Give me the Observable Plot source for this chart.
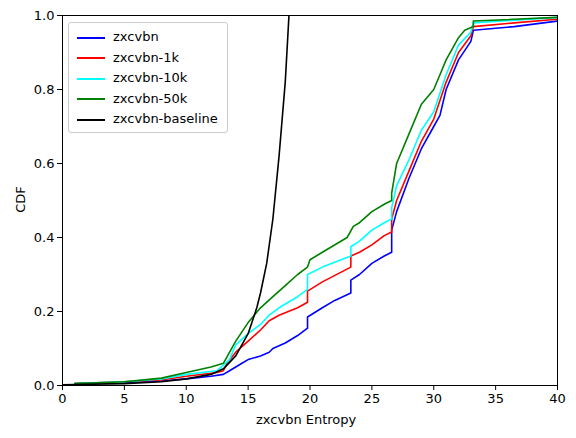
<!DOCTYPE html>
<html><head><meta charset="utf-8">
<script src="https://cdn.jsdelivr.net/npm/d3@7"></script>
<script src="https://cdn.jsdelivr.net/npm/@observablehq/plot@0.6"></script>
<style>
body{margin:0;background:#fff;font-family:"DejaVu Sans",sans-serif}
#chart{position:relative;width:576px;height:438px}
#legend{position:absolute;left:68px;top:22px;width:158px;height:109px;border:1px solid #ccc;border-radius:3px;background:rgba(255,255,255,0.8);font-size:13px}
#legend div{position:absolute;left:8px;height:20px;line-height:20px}
#legend span{display:inline-block;width:28px;height:2px;vertical-align:middle;margin-right:8px}
.lab{position:absolute;font-size:13px}
</style></head><body>
<div id="chart"></div>
<script>
var series = ["zxcvbn", "zxcvbn-1k", "zxcvbn-10k", "zxcvbn-50k", "zxcvbn-baseline"]
var colors = ["blue", "red", "cyan", "green", "black"]
var xTicks = [0, 5, 10, 15, 20, 25, 30, 35, 40]
var yTicks = [0, 0.2, 0.4, 0.6, 0.8, 1.0]

var zxcvbn = [[1,0.005],[5,0.008],[8,0.012],[10,0.018],[12,0.025],[13,0.03],[13.5,0.04],[14,0.05],[14.5,0.06],[15,0.07],[16,0.08],[16.7,0.09],[17,0.1],[18,0.115],[19,0.135],[19.8,0.155],[19.8,0.185],[21,0.21],[22,0.23],[23.3,0.25],[23.3,0.285],[24,0.3],[25,0.33],[26,0.35],[26.6,0.36],[26.6,0.42],[27,0.47],[28,0.56],[29,0.64],[30,0.7],[30.5,0.73],[31,0.8],[32,0.88],[33,0.93],[33.2,0.96],[36.5,0.97],[40,0.985]]
var zxcvbn1k = [[1,0.005],[5,0.01],[8,0.015],[10,0.025],[12.5,0.035],[13,0.04],[13.3,0.06],[14,0.09],[15,0.12],[16,0.15],[16.7,0.175],[17.5,0.19],[19,0.21],[19.8,0.225],[19.8,0.255],[21,0.28],[23.3,0.32],[23.3,0.35],[24,0.36],[25,0.38],[26,0.405],[26.6,0.415],[26.6,0.45],[27,0.5],[28,0.58],[29,0.66],[30,0.72],[31,0.82],[32,0.9],[33,0.945],[33.2,0.97],[36.5,0.98],[40,0.99]]
var zxcvbn10k = [[1,0.005],[5,0.01],[8,0.018],[10,0.03],[12.5,0.04],[13.5,0.07],[14,0.11],[15,0.14],[16,0.165],[16.7,0.19],[17.5,0.21],[19,0.24],[19.8,0.26],[19.8,0.3],[21,0.32],[23.3,0.35],[23.3,0.375],[24,0.39],[25,0.42],[26,0.44],[26.6,0.45],[26.6,0.48],[27,0.54],[28,0.61],[29,0.69],[30,0.74],[31,0.84],[32,0.92],[33,0.955],[33.2,0.98],[40,0.995]]
var zxcvbn50k = [[1,0.005],[5,0.01],[8,0.02],[10,0.035],[12,0.05],[13,0.06],[14,0.12],[15,0.17],[16,0.21],[17,0.24],[18,0.27],[19,0.3],[19.8,0.32],[20,0.34],[21,0.36],[23,0.4],[23.5,0.43],[24,0.44],[25,0.47],[26,0.49],[26.6,0.5],[26.6,0.52],[27,0.6],[28,0.68],[29,0.76],[30,0.8],[30.5,0.84],[31,0.88],[32,0.94],[32.5,0.96],[33.2,0.97],[33.2,0.985],[40,0.995]]
var baseline = [[0,0.002],[5,0.005],[8,0.01],[10,0.018],[12,0.03],[13,0.045],[14,0.08],[15,0.14],[15.7,0.21],[16,0.25],[16.5,0.33],[17,0.45],[17.5,0.62],[18,0.82],[18.3,1.0]]

var all = [zxcvbn, zxcvbn1k, zxcvbn10k, zxcvbn50k, baseline]
var rows = all.flatMap((pts, i) => pts.map(([x, y]) => ({series: series[i], x, y})))

var chart = Plot.plot({
  width: 576, height: 438,
  marginLeft: 62, marginRight: 19, marginTop: 15, marginBottom: 53,
  style: {fontFamily: "DejaVu Sans", fontSize: "13px", color: "black"},
  x: {domain: [0, 40]},
  y: {domain: [0, 1]},
  color: {domain: series, range: colors},
  marks: [
    Plot.line(rows, {x: "x", y: "y", z: "series", stroke: "series", strokeWidth: 1.6, clip: true}),
    Plot.axisX({ticks: xTicks, tickSize: 5, tickPadding: 3, label: null}),
    Plot.axisY({ticks: yTicks, tickFormat: d3.format(".1f"), tickSize: 5, tickPadding: 3, label: null}),
    Plot.frame({stroke: "black"})
  ]
})
d3.select("#chart").append(() => chart)

d3.select("#chart").append("div").attr("class", "lab")
  .style("left", "256px").style("top", "412px").text("zxcvbn Entropy")
d3.select("#chart").append("div").attr("class", "lab")
  .style("left", "0px").style("top", "192px")
  .style("transform", "rotate(-90deg)").style("transform-origin", "center")
  .style("width", "40px").style("text-align", "center").text("CDF")

var lg = d3.select("#chart").append("div").attr("id", "legend")
series.forEach((s, i) => {
  var d = lg.append("div").style("top", (4 + i * 20.5) + "px")
  d.append("span").style("background", colors[i])
  d.append("text").text(s)
})
</script>
</body></html>
